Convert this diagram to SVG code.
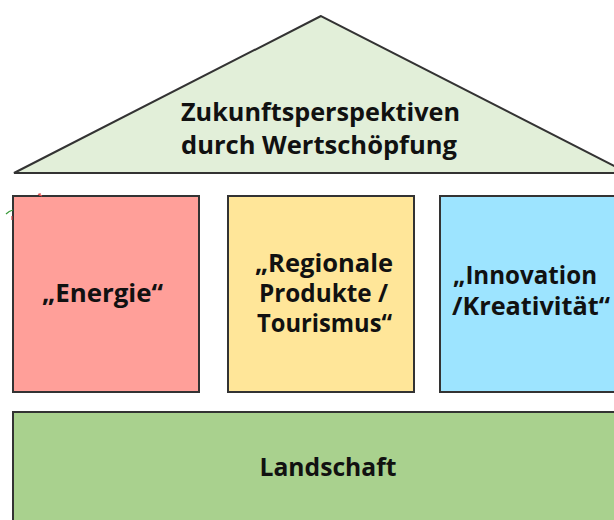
<svg xmlns="http://www.w3.org/2000/svg" width="614" height="520" viewBox="0 0 614 520">
<style>
.box{stroke:#333;stroke-width:2}
.t{font-family:"Open Sans","Noto Sans","Liberation Sans",sans-serif;font-weight:700;font-size:25px;fill:#111}
.m{text-anchor:middle}
</style>
<rect width="614" height="520" fill="#fff"/>
<g id="roof">
<polygon class="box" points="321,16 14,173 628,173" fill="#e2efd9"/>
<text class="t m" x="320.5" y="121" textLength="279" lengthAdjust="spacingAndGlyphs">Zukunftsperspektiven</text>
<text class="t m" x="319" y="154" textLength="276" lengthAdjust="spacingAndGlyphs">durch Wertschöpfung</text>
</g>
<g id="energie">
<rect class="box" x="13" y="196" width="186" height="196" fill="#ff9f99"/>
<text class="t m" x="102.5" y="302" textLength="121" lengthAdjust="spacingAndGlyphs">„Energie“</text>
</g>
<g id="regionale">
<rect class="box" x="228" y="196" width="186" height="196" fill="#ffe699"/>
<text class="t" x="255" y="272" textLength="138" lengthAdjust="spacingAndGlyphs">„Regionale</text>
<text class="t" x="259" y="302" textLength="129" lengthAdjust="spacingAndGlyphs">Produkte /</text>
<text class="t" x="257" y="332" textLength="135" lengthAdjust="spacingAndGlyphs">Tourismus“</text>
</g>
<g id="innovation">
<rect class="box" x="440" y="196" width="200" height="196" fill="#9de4ff"/>
<text class="t" x="453" y="284" textLength="144" lengthAdjust="spacingAndGlyphs">„Innovation</text>
<text class="t" x="452" y="315" textLength="158" lengthAdjust="spacingAndGlyphs">/Kreativität“</text>
</g>
<g id="landschaft">
<rect class="box" x="13" y="412" width="620" height="130" fill="#a9d18e"/>
<text class="t m" x="328" y="476" textLength="137" lengthAdjust="spacingAndGlyphs">Landschaft</text>
</g>
<g id="connectors"></g>
<g id="marks" fill="none" stroke-width="1.2">
<path d="M38,194 l4,2 M40,193 l0,3" stroke="#e05050"/>
<path d="M6,214 q3,-3 7,-4" stroke="#3a9a3a"/>
<path d="M12,216 l0,4" stroke="#d04040"/>
</g>
</svg>
